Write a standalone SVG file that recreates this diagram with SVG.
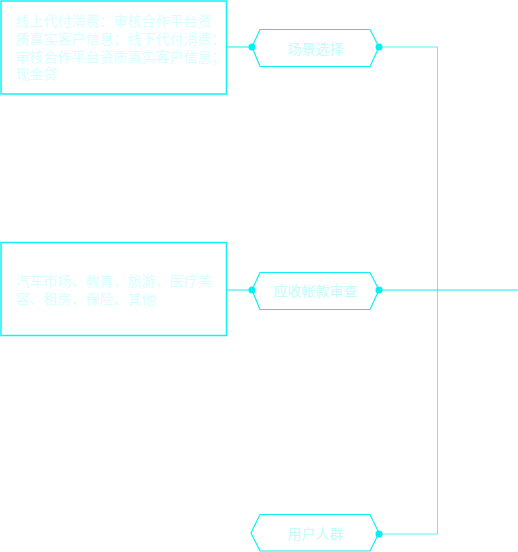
<svg xmlns="http://www.w3.org/2000/svg" width="518" height="552" viewBox="0 0 518 552">
<style>
.box{fill:none;stroke:#12f2f2;stroke-width:1.5}
.hex{fill:#ffffff;stroke:#12eef2;stroke-width:1.2}
.con{fill:none;stroke:#12eef2;stroke-width:1}
.dot{fill:#00f0f5}
.t{font-family:"Liberation Sans","Noto Sans CJK SC",sans-serif;font-size:14px;fill:#d8ffff}
.lbl{font-family:"Liberation Sans","Noto Sans CJK SC",sans-serif;font-size:14px;fill:#c4fcfc;text-anchor:middle}
</style>
<rect width="518" height="552" fill="#ffffff"/>
<g id="connectors">
<line class="con" x1="227" y1="47" x2="252" y2="47"/>
<line class="con" x1="227" y1="290" x2="252" y2="290"/>
<polyline class="con" points="379,47 437.5,47 437.5,534 379,534" stroke-opacity="0.7"/>
<line class="con" x1="379" y1="290" x2="518" y2="290"/>
</g>
<g id="box1">
<rect class="box" x="1" y="1" width="225.5" height="93"/>
<text class="t" x="15.5" y="25.5">线上代付消费：审核合作平台资</text>
<text class="t" x="15.5" y="43.5">质真实客户信息；线下代付消费：</text>
<text class="t" x="15.5" y="61.5">审核合作平台资质真实客户信息；</text>
<text class="t" x="15.5" y="79">现金贷</text>
</g>
<g id="box2">
<rect class="box" x="1" y="242.5" width="225.5" height="93"/>
<text class="t" x="15.5" y="285.5">汽车市场、教育、旅游、医疗美</text>
<text class="t" x="15.5" y="303.5">容、租房、保险、其他</text>
</g>
<g id="hex1">
<polygon class="hex" points="252,47 260,29.5 370,29.5 379,47 370,66.5 260,66.5"/>
<circle class="dot" cx="252" cy="47" r="3.5"/>
<circle class="dot" cx="379" cy="47" r="3.5"/>
<text class="lbl" x="315.5" y="54">场景选择</text>
</g>
<g id="hex2">
<polygon class="hex" points="252,290 260,272.5 370,272.5 379,290 370,309.5 260,309.5"/>
<circle class="dot" cx="252" cy="290" r="3.5"/>
<circle class="dot" cx="379" cy="290" r="3.5"/>
<text class="lbl" x="315.5" y="295.5">应收帐款审查</text>
</g>
<g id="hex3">
<polygon class="hex" points="251,533 260,514.5 370,514.5 379,533 370,551 260,551"/>
<circle class="dot" cx="379" cy="534" r="3.5"/>
<text class="lbl" x="315.5" y="538.5">用户人群</text>
</g>
</svg>
